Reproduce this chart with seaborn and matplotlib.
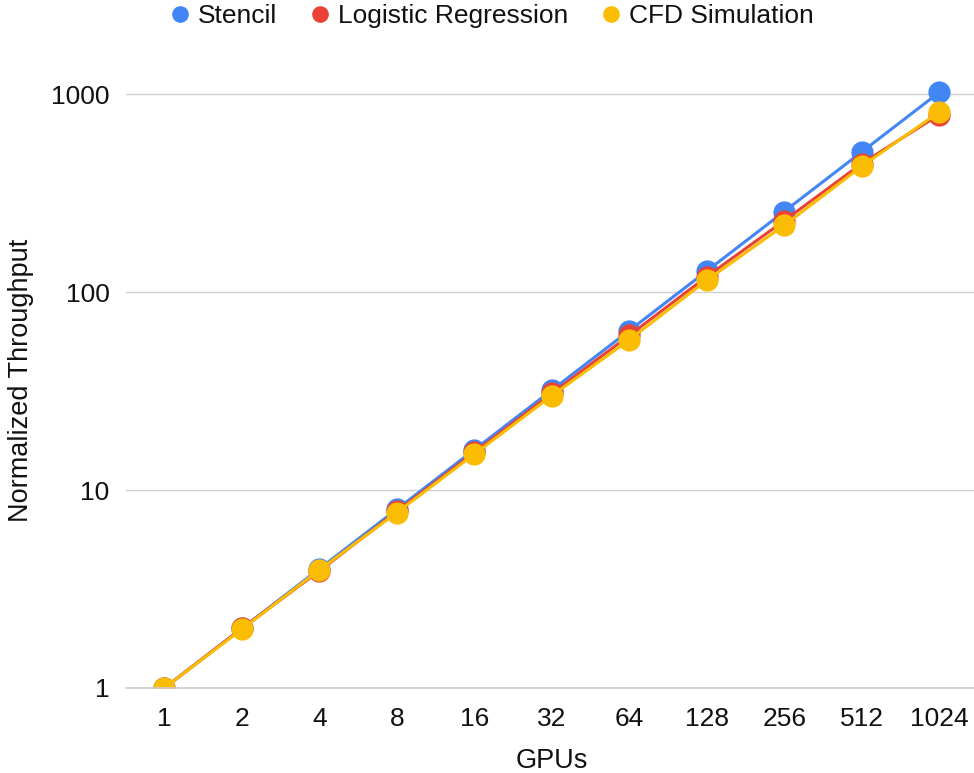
import matplotlib
matplotlib.use("Agg")
import matplotlib.pyplot as plt
import seaborn as sns
import pandas as pd
from matplotlib.ticker import FixedLocator, FixedFormatter, NullLocator
from matplotlib.lines import Line2D

gpus = ["1", "2", "4", "8", "16", "32", "64", "128", "256", "512", "1024"]
stencil = [1, 2, 4, 8, 16, 32, 64, 128, 256, 512, 1024]
logistic_regression = [1, 2, 3.9, 7.8, 15.5, 30.8, 60.5, 120, 230, 447, 790]
cfd_simulation = [1, 1.98, 3.95, 7.7, 15.2, 30, 57.5, 115, 218, 433, 815]

series_names = ["Stencil", "Logistic Regression", "CFD Simulation"]
series_values = [stencil, logistic_regression, cfd_simulation]
colors = ["#4285F4", "#EA4335", "#FBBC04"]

sns.set_theme(style="white")
plt.rcParams["font.family"] = ["Liberation Sans", "DejaVu Sans"]

fig = plt.figure(figsize=(9.74, 7.73), dpi=100)
ax = fig.add_axes([0.129, 0.110, 0.875, 0.797])

frames = []
for name, vals in zip(series_names, series_values):
    frames.append(pd.DataFrame({"GPUs": gpus, "Throughput": vals, "Series": name}))
df = pd.concat(frames, ignore_index=True)

for name, color in zip(series_names, colors):
    sub = df[df["Series"] == name]
    sns.lineplot(data=sub, x="GPUs", y="Throughput", ax=ax, color=color,
                 linewidth=2.2, marker="o", markersize=16, markeredgewidth=0,
                 sort=False, legend=False, clip_on=True)

ax.set_yscale("log")
ax.set_ylim(1, 1300)
ax.set_xlim(-0.5, len(gpus) - 0.5)
ax.yaxis.set_major_locator(FixedLocator([1, 10, 100, 1000]))
ax.yaxis.set_major_formatter(FixedFormatter(["1", "10", "100", "1000"]))
ax.yaxis.set_minor_locator(NullLocator())
ax.grid(axis="y", color="#d0d0d0", linewidth=1.0)
ax.grid(axis="x", visible=False)
for s in ["left", "right", "top"]:
    ax.spines[s].set_visible(False)
ax.spines["bottom"].set_color("#cccccc")
ax.spines["bottom"].set_linewidth(1.2)
ax.tick_params(axis="both", length=0, labelsize=19, colors="#111111")
ax.tick_params(axis="y", pad=11.5)
ax.tick_params(axis="x", pad=14)
ax.set_xlabel("GPUs", fontsize=19.5, color="#111111", labelpad=12)
ax.set_ylabel("Normalized Throughput", fontsize=19.5, color="#111111")
ax.yaxis.set_label_coords(-0.107, 0.5)

handles = [Line2D([], [], linestyle="none", marker="o", markersize=12,
                  markerfacecolor=c, markeredgewidth=0) for c in colors]
fig.legend(handles, series_names, loc="upper center", bbox_to_anchor=(0.502, 1.025),
           ncol=3, frameon=False, fontsize=19, handletextpad=0.1,
           columnspacing=1.0, handlelength=1.2, labelcolor="#111111")

fig.savefig("out.png", dpi=100)
